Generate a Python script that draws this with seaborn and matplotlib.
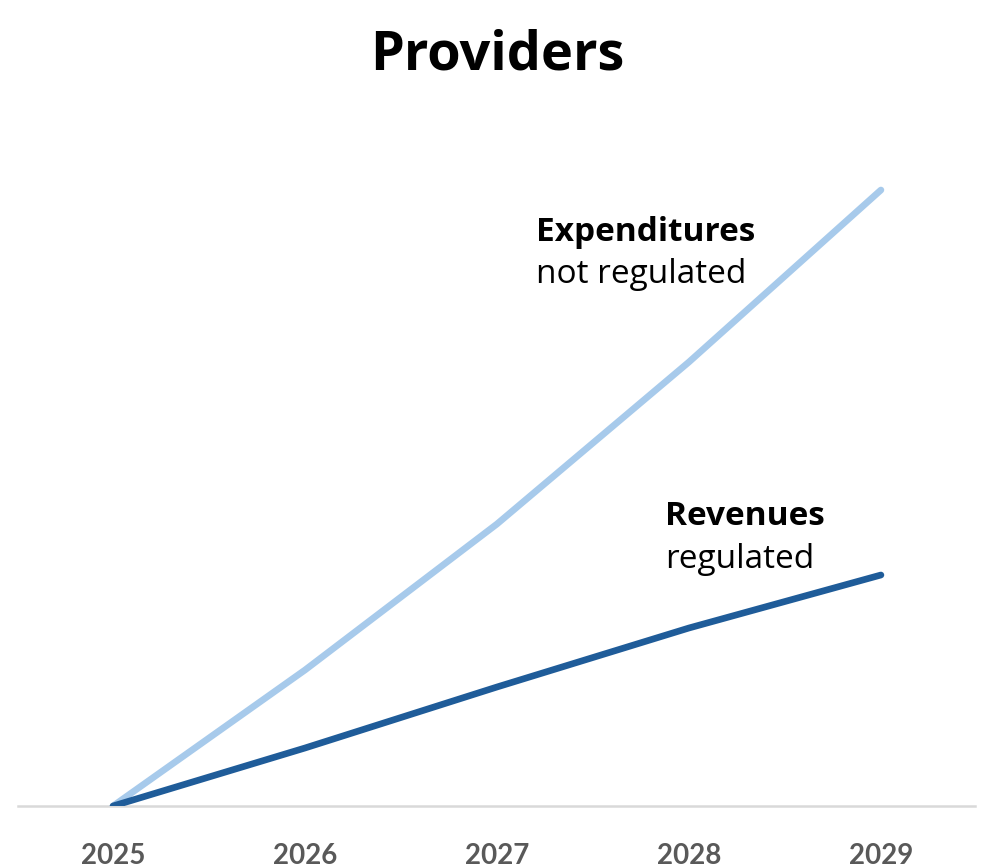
import matplotlib
matplotlib.use("Agg")
import matplotlib.pyplot as plt
import seaborn as sns
import pandas as pd

years = [2025, 2026, 2027, 2028, 2029]
expenditures = [0, 136, 282, 444, 616]
revenues = [0, 58, 119, 178, 231]
tick_labels = ["2025", "2026", "2027", "2028", "2029"]

sns.set_theme(style="white")
plt.rcParams['font.family'] = ['Lato', 'DejaVu Sans']

df = pd.DataFrame({
    "year": years * 2,
    "value": expenditures + revenues,
    "series": ["Expenditures"] * 5 + ["Revenues"] * 5,
})

fig = plt.figure(figsize=(9.81, 8.68), dpi=100)
ax = fig.add_axes([18 / 981, 1 - 806 / 868, (975 - 18) / 981, (806 - 150) / 868])

palette = {"Expenditures": "#a7caeb", "Revenues": "#1f5c99"}
sns.lineplot(data=df, x="year", y="value", hue="series", palette=palette,
             linewidth=4.8, ax=ax, legend=False, solid_capstyle="round")

ax.set_xlim(2024.505, 2029.49)
ax.set_ylim(0, 656)
ax.set_xticks(years)
ax.set_xticklabels(tick_labels, fontsize=20, fontweight="bold", color="#595959")
ax.tick_params(axis="x", length=0, pad=27)
ax.set_yticks([])
ax.set_xlabel("")
ax.set_ylabel("")
for s in ["top", "left", "right"]:
    ax.spines[s].set_visible(False)
ax.spines["bottom"].set_color("#d9d9d9")
ax.spines["bottom"].set_linewidth(1.8)
ax.spines["bottom"].set_zorder(0)

ann = ['Open Sans', 'DejaVu Sans']
ax.text(2027.203, 565, "Expenditures", fontsize=24, fontweight="bold", color="black",
        va="baseline", family=ann)
ax.text(2027.203, 523, "not regulated", fontsize=24, color="black", va="baseline", family=ann)
ax.text(2027.875, 281, "Revenues", fontsize=24, fontweight="bold", color="black",
        va="baseline", family=ann)
ax.text(2027.875, 238, "regulated", fontsize=24, color="black", va="baseline", family=ann)

fig.text(497 / 981, 1 - 55 / 868, "Providers", fontsize=39, fontweight="bold",
         ha="center", va="center", color="black", family=ann)

fig.savefig("out.png", dpi=100)
